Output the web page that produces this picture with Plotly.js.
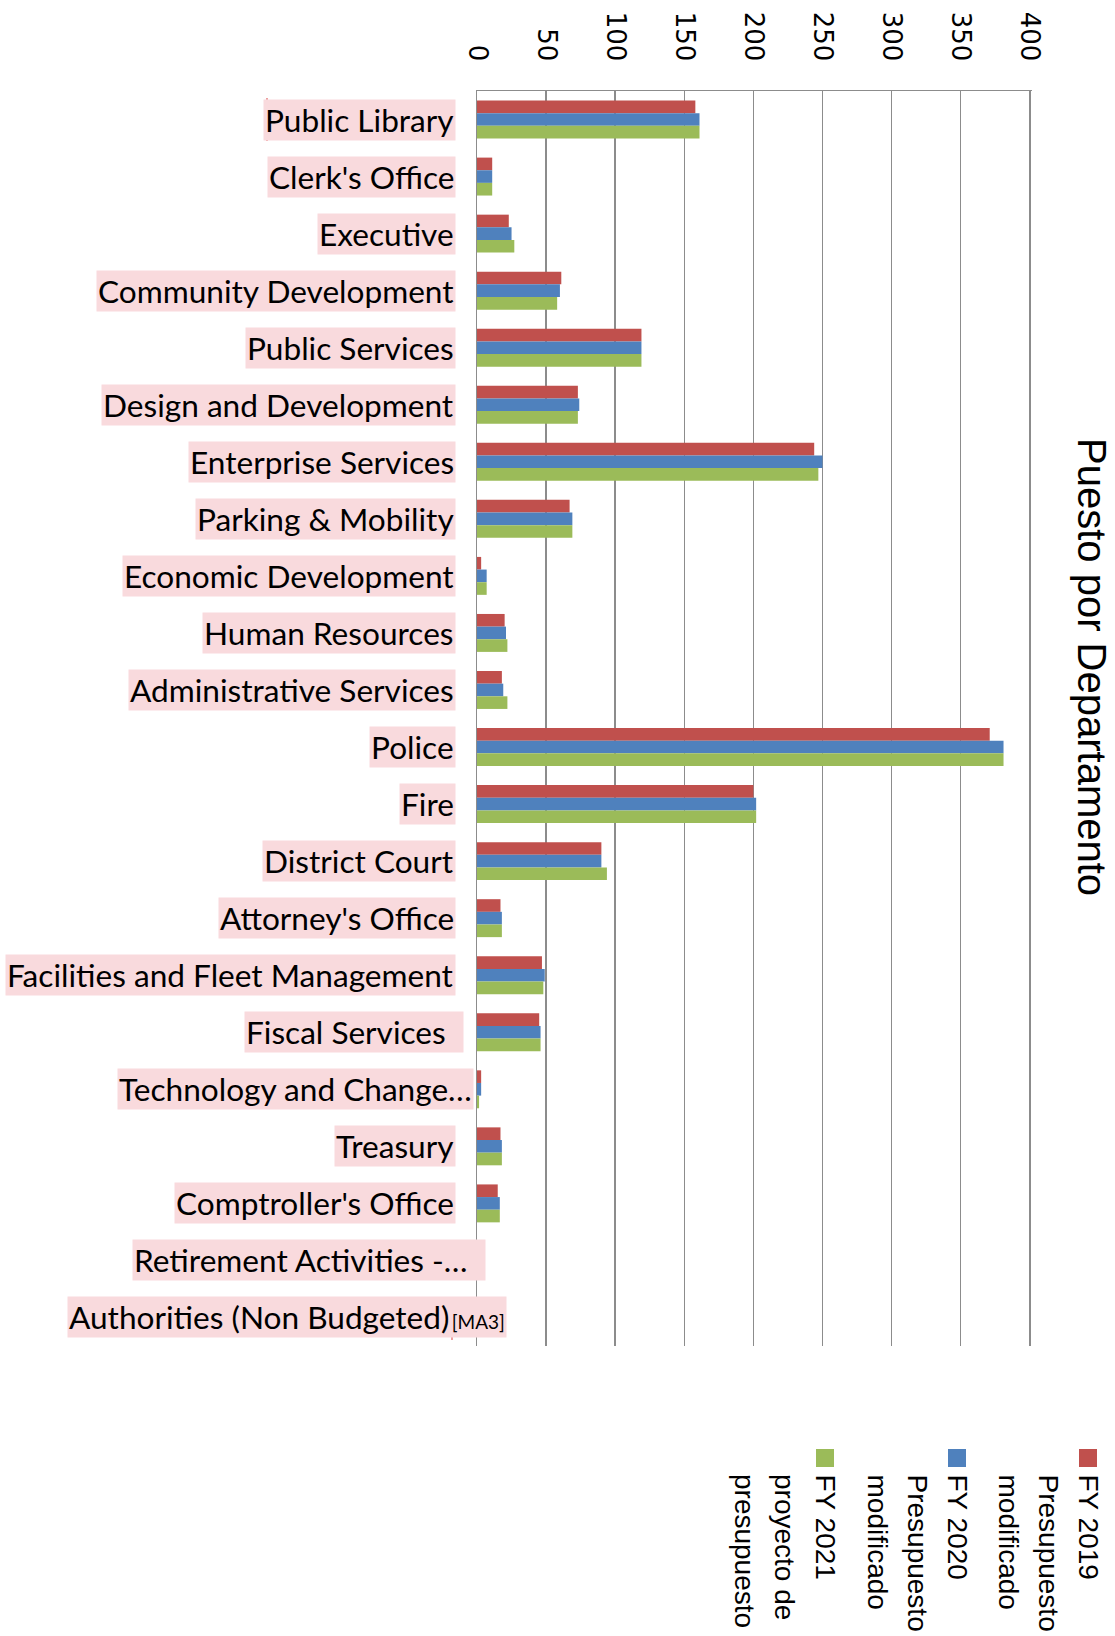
<!DOCTYPE html>
<html><head><meta charset="utf-8">
<script src="https://cdn.plot.ly/plotly-3.0.1.min.js"></script>
<style>body{margin:0;background:#fff}</style>
</head><body><div id="chart" style="width:1115px;height:1636px"></div>
<script>
// ---- data ----
const departments = ["Public Library","Clerk's Office","Executive","Community Development","Public Services","Design and Development","Enterprise Services","Parking & Mobility","Economic Development","Human Resources","Administrative Services","Police","Fire","District Court","Attorney's Office","Facilities and Fleet Management","Fiscal Services","Technology and Change…","Treasury","Comptroller's Office","Retirement Activities -…","Authorities (Non Budgeted)"];
const fy2019 = [158, 11, 23, 61, 119, 73, 244, 67, 3, 20, 18, 371, 200, 90, 17, 47, 45, 3, 17, 15, 0, 0];
const fy2020 = [161, 11, 25, 60, 119, 74, 250, 69, 7, 21, 19, 381, 202, 90, 18, 49, 46, 3, 18, 16.5, 0, 0];
const fy2021 = [161, 11, 27, 58, 119, 73, 247, 69, 7, 22, 22, 381, 202, 94, 18, 48, 46, 1.5, 18, 16.5, 0, 0];
const seriesNames = ["FY 2019 Presupuesto modificado","FY 2020 Presupuesto modificado","FY 2021 proyecto de presupuesto"];
const legendLines = [["FY 2019","Presupuesto","modificado"],["FY 2020","Presupuesto","modificado"],["FY 2021","proyecto de","presupuesto"]];
const xTicks = [0, 50, 100, 150, 200, 250, 300, 350, 400];
const chartTitle = "Puesto por Departamento";
const commentTag = "[MA3]";

// ---- style ----
const colors = ["#C0504D", "#4F81BD", "#9BBB59"];
const gridC = "#8c8c8c";
const pink = "#F9DADD";
const W = 1115, H = 1636, ML = 477, MR = 83, MT = 91, MB = 290;
const PW = W - ML - MR, PH = H - MT - MB;
const px2x = p => (p - ML) / PW;
const py2y = p => (H - MB - p) / PH;
// label box tweaks (pixels) for a few labels
const labelShift = {"Fiscal Services": [-13, "\u00a0\u00a0"], "Technology and Change…": [-3, ""], "Retirement Activities -…": [9, "\u00a0\u00a0"], "Authorities (Non Budgeted)": [30, ""]};

const vals = [fy2019, fy2020, fy2021];
const traces = vals.map((v, i) => ({
  type: "bar", orientation: "h", name: seriesNames[i],
  x: v, y: departments, marker: {color: colors[i]}, showlegend: false, hoverinfo: "x+y"
}));

const annotations = [];
const shapes = [];
departments.forEach(d => {
  const tw = labelShift[d] || [-21, ""];
  let txt = d + tw[1];
  if (d === "Authorities (Non Budgeted)") txt = d + "<span style='font-size:19px'>\u2009" + commentTag + "</span>";
  annotations.push({
    x: 0, xref: "x", y: d, yref: "y", xanchor: "right", yanchor: "middle", xshift: tw[0],
    text: txt, showarrow: false, bgcolor: pink, borderpad: 1,
    font: {family: "Lato", size: 31.6, color: "#000"}
  });
});
// title
annotations.push({
  x: px2x(1092), y: py2y(667), xref: "paper", yref: "paper", xanchor: "center", yanchor: "middle",
  textangle: 90, text: chartTitle, showarrow: false,
  font: {family: "Liberation Sans, Arial", size: 40, color: "#000"}
});
// legend
const legX = [1088, 957, 825];
legendLines.forEach((lines, i) => {
  shapes.push({type: "rect", xref: "paper", yref: "paper",
    x0: px2x(legX[i] - 9), x1: px2x(legX[i] + 9), y0: py2y(1449), y1: py2y(1467),
    fillcolor: colors[i], line: {width: 0}});
  lines.forEach((ln, j) => {
    annotations.push({
      x: px2x(legX[i] - j * 40), y: py2y(1472), xref: "paper", yref: "paper",
      xanchor: "center", yanchor: "top", textangle: 90, text: ln, showarrow: false,
      font: {family: "Liberation Sans, Arial", size: 28, color: "#000"}
    });
  });
});
// comment marker lines
shapes.push({type: "line", xref: "paper", yref: "paper", x0: px2x(267), x1: px2x(267), y0: py2y(98), y1: py2y(141), line: {color: "#E06060", width: 1.2}});
shapes.push({type: "line", xref: "paper", yref: "paper", x0: px2x(452), x1: px2x(452), y0: py2y(1297), y1: py2y(1340), line: {color: "#E06060", width: 1.2}});

const layout = {
  width: W, height: H, margin: {l: ML, r: MR, t: MT, b: MB, pad: 0},
  paper_bgcolor: "#fff", plot_bgcolor: "#fff",
  barmode: "group", bargap: 0.335, bargroupgap: 0,
  xaxis: {side: "top", range: [0, 401.6], tickvals: xTicks, tickangle: 90,
    tickfont: {family: "DejaVu Sans", size: 26, color: "#000"},
    showgrid: true, gridcolor: gridC, gridwidth: 1.5, showline: true, linecolor: gridC, linewidth: 1.5,
    zeroline: false, ticks: "", ticklabelstandoff: 19, fixedrange: true},
  yaxis: {autorange: "reversed", showticklabels: false, showgrid: false, zeroline: false,
    showline: true, linecolor: gridC, linewidth: 1.5, ticks: "", fixedrange: true},
  annotations: annotations, shapes: shapes, showlegend: false
};
Plotly.newPlot("chart", traces, layout, {displayModeBar: false, staticPlot: true});
</script></body></html>
